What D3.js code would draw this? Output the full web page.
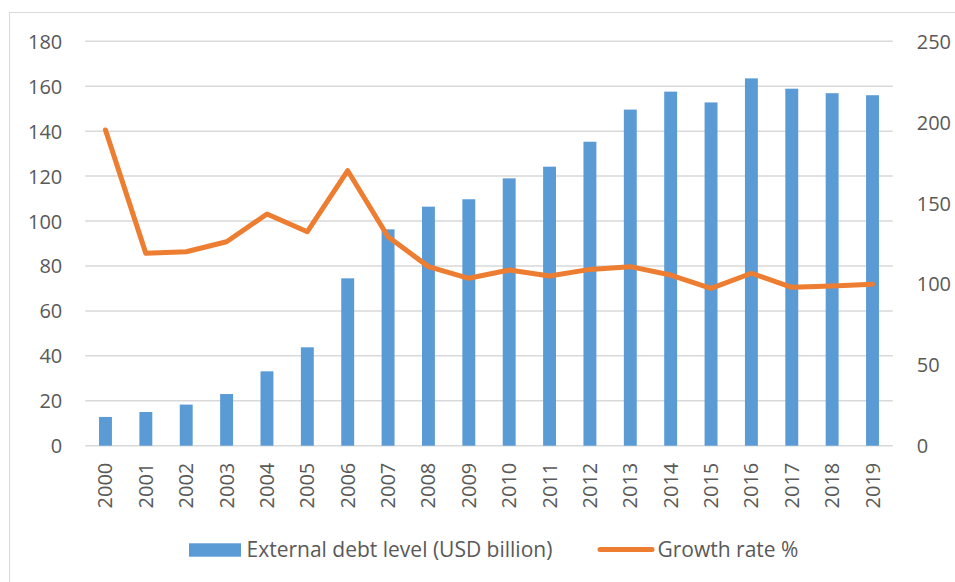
<!DOCTYPE html>
<html lang="en">
<head>
    <meta charset="UTF-8">
    <title>External debt level and growth rate</title>
    <script src="https://d3js.org/d3.v7.min.js"></script>
    <style>
        body { margin: 0; background: #fff; }
        text { font-family: "Open Sans", sans-serif; font-size: 20px; fill: #595959; }
        .legend text { font-size: 21px; }
    </style>
</head>
<body>
    <script>
        const width = 955;
        const height = 582;

        const years = ["2000", "2001", "2002", "2003", "2004", "2005", "2006", "2007", "2008", "2009",
                       "2010", "2011", "2012", "2013", "2014", "2015", "2016", "2017", "2018", "2019"];
        const debtLevel = [12.8, 15, 18.3, 23, 33.1, 43.8, 74.5, 96.3, 106.4, 109.7,
                           119, 124.2, 135.3, 149.6, 157.6, 152.8, 163.5, 158.9, 156.9, 156];
        const growthRate = [195.2, 118.9, 119.9, 126.1, 143.2, 132.3, 170, 129.2, 110.7, 103.5,
                            108.6, 104.9, 109, 110.7, 105.5, 97.3, 106.6, 97.9, 98.7, 99.8];
        const leftTicks = [0, 20, 40, 60, 80, 100, 120, 140, 160, 180];
        const rightTicks = [0, 50, 100, 150, 200, 250];

        const margin = {left: 85.3, right: 955 - 892.7, top: 41.3, bottom: 582 - 445.7};

        const svg = d3.select("body").append("svg")
            .attr("width", width)
            .attr("height", height);

        // outer chart frame
        svg.append("rect")
            .attr("x", 9.5).attr("y", 12.5)
            .attr("width", 980).attr("height", 620)
            .attr("fill", "none")
            .attr("stroke", "#d9d9d9")
            .attr("stroke-width", 1);

        const x = d3.scaleBand()
            .domain(years)
            .range([margin.left, width - margin.right])
            .paddingInner(0.68)
            .paddingOuter(0.34);

        const yLeft = d3.scaleLinear()
            .domain([0, 180])
            .range([height - margin.bottom, margin.top]);

        const yRight = d3.scaleLinear()
            .domain([0, 250])
            .range([height - margin.bottom, margin.top]);

        // gridlines
        svg.append("g")
            .selectAll("line")
            .data(leftTicks)
            .join("line")
            .attr("x1", margin.left)
            .attr("x2", width - margin.right)
            .attr("y1", d => yLeft(d))
            .attr("y2", d => yLeft(d))
            .attr("stroke", "#d9d9d9")
            .attr("stroke-width", 1.5);

        // left axis
        const leftAxis = svg.append("g")
            .attr("transform", `translate(${margin.left - 23},0)`)
            .call(d3.axisLeft(yLeft).tickValues(leftTicks).tickSize(0).tickPadding(0));
        leftAxis.select(".domain").remove();
        leftAxis.selectAll("text").attr("dy", "0.35em");

        // right axis
        const rightAxis = svg.append("g")
            .attr("transform", `translate(${width - margin.right + 24},0)`)
            .call(d3.axisRight(yRight).tickValues(rightTicks).tickSize(0).tickPadding(0));
        rightAxis.select(".domain").remove();
        rightAxis.selectAll("text").attr("dy", "0.35em");

        // bars
        svg.append("g")
            .selectAll("rect")
            .data(debtLevel)
            .join("rect")
            .attr("x", (d, i) => x(years[i]))
            .attr("y", d => yLeft(d))
            .attr("width", x.bandwidth())
            .attr("height", d => yLeft(0) - yLeft(d))
            .attr("fill", "#5b9bd5");

        // year labels (rotated)
        svg.append("g")
            .selectAll("text")
            .data(years)
            .join("text")
            .attr("transform", d => `translate(${x(d) + x.bandwidth() / 2},${yLeft(0) + 17}) rotate(-90)`)
            .attr("text-anchor", "end")
            .attr("dy", "0.35em")
            .text(d => d);

        // growth line
        const line = d3.line()
            .x((d, i) => x(years[i]) + x.bandwidth() / 2)
            .y(d => yRight(d));

        svg.append("path")
            .datum(growthRate)
            .attr("d", line)
            .attr("fill", "none")
            .attr("stroke", "#ed7d31")
            .attr("stroke-width", 5)
            .attr("stroke-linejoin", "round")
            .attr("stroke-linecap", "round");

        // legend
        const legend = svg.append("g").attr("class", "legend");
        legend.append("rect")
            .attr("x", 189).attr("y", 543.3)
            .attr("width", 52).attr("height", 13.4)
            .attr("fill", "#5b9bd5");
        legend.append("text")
            .attr("x", 246.5).attr("y", 557)
            .text("External debt level (USD billion)");
        legend.append("line")
            .attr("x1", 600).attr("x2", 652)
            .attr("y1", 549.5).attr("y2", 549.5)
            .attr("stroke", "#ed7d31")
            .attr("stroke-width", 5)
            .attr("stroke-linecap", "round");
        legend.append("text")
            .attr("x", 657.5).attr("y", 557)
            .text("Growth rate %");
    </script>
</body>
</html>
